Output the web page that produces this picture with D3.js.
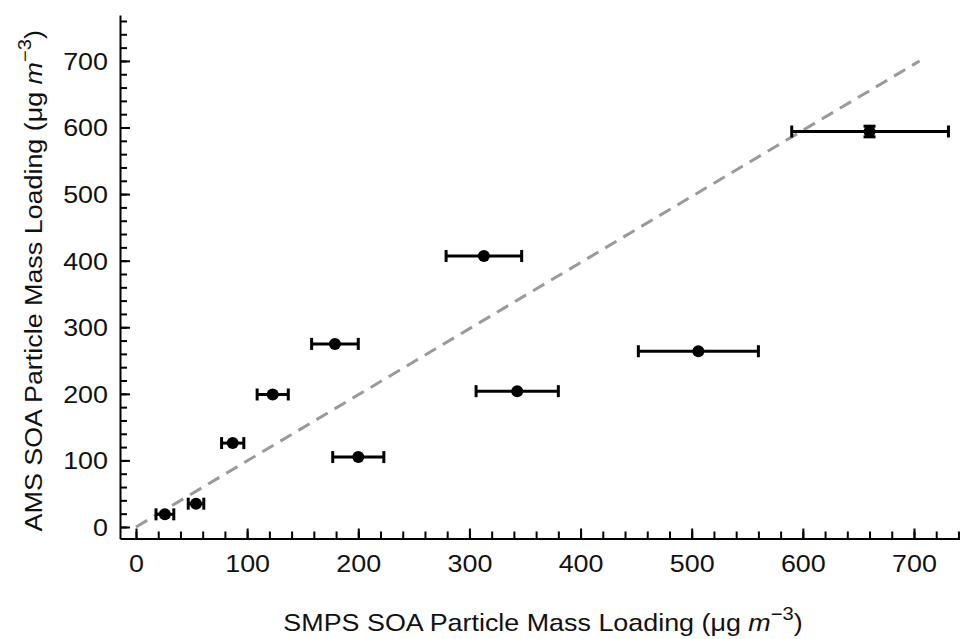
<!DOCTYPE html>
<html>
<head>
<meta charset="utf-8">
<script src="https://cdn.jsdelivr.net/npm/d3@7"></script>
<style>
    body { margin: 0; background: #fff; }
    .font { font-family: "Liberation Sans", Arial, sans-serif; fill: #111; }
    .tick-label { font-size: 24px; }
    .axis-label { font-size: 24px; }
    .axis path, .axis line { stroke: #000; stroke-width: 2; }
</style>
</head>
<body>
<svg id="chart" width="960" height="639"></svg>
<script>
const SVG_WIDTH = 960;
const SVG_HEIGHT = 639;

// data
const SMPS = [26, 54, 87, 123, 179, 200, 313, 343, 506, 660];
const AMS = [19, 35, 126, 199, 275, 105, 407, 204, 264, 594];
const SMPS_ERR_LOW = [8, 7, 10, 14, 21, 23, 34, 37, 54, 70];
const SMPS_ERR_HIGH = [8, 7, 10, 14, 21, 23, 34, 37, 54, 71];
const AMS_ERR = [0, 0, 0, 0, 0, 0, 0, 0, 0, 8];
const ONE_TO_ONE = [[0, 0], [705, 700]];
const X_TICKS = [0, 100, 200, 300, 400, 500, 600, 700];
const Y_TICKS = [0, 100, 200, 300, 400, 500, 600, 700];
const MINOR_STEP = 20;

const X_DOMAIN = [-14.4, 741.4];
const Y_DOMAIN = [-17.3, 769];
const PLOT_LEFT = 120;
const PLOT_RIGHT = 960;
const PLOT_TOP = 15;
const PLOT_BOTTOM = 538.5;
const MAJOR_TICK = 10;
const MINOR_TICK = 7;
const CAP_HALF = 6;
const DOT_RADIUS = 6;
// the original lettering is wider than Liberation Sans
const TEXT_STRETCH = 1.12;

var svg = d3.select("#chart");

var xScale = d3.scaleLinear().domain(X_DOMAIN).range([PLOT_LEFT, PLOT_RIGHT]);
var yScale = d3.scaleLinear().domain(Y_DOMAIN).range([PLOT_BOTTOM, PLOT_TOP]);

var xMinor = d3.range(0, X_DOMAIN[1], MINOR_STEP);
var yMinor = d3.range(0, Y_DOMAIN[1], MINOR_STEP);

// x axis: minor ticks, then major ticks with labels
svg.append("g")
    .attr("class", "axis")
    .attr("transform", "translate(0," + PLOT_BOTTOM + ")")
    .call(d3.axisBottom(xScale).tickValues(xMinor).tickSize(-MINOR_TICK)
        .tickSizeOuter(0).tickFormat(""));
var xAxis = svg.append("g")
    .attr("class", "axis")
    .attr("transform", "translate(0," + PLOT_BOTTOM + ")")
    .call(d3.axisBottom(xScale).tickValues(X_TICKS).tickSize(-MAJOR_TICK)
        .tickSizeOuter(0).tickPadding(0));
xAxis.select(".domain").remove();
xAxis.selectAll("text")
    .attr("class", "font tick-label")
    .attr("y", 34)
    .attr("dy", 0)
    .attr("fill", null)
    .attr("transform", "scale(" + TEXT_STRETCH + ",1)");

// y axis
svg.append("g")
    .attr("class", "axis")
    .attr("transform", "translate(" + PLOT_LEFT + ",0)")
    .call(d3.axisLeft(yScale).tickValues(yMinor).tickSize(-MINOR_TICK)
        .tickSizeOuter(0).tickFormat(""));
var yAxis = svg.append("g")
    .attr("class", "axis")
    .attr("transform", "translate(" + PLOT_LEFT + ",0)")
    .call(d3.axisLeft(yScale).tickValues(Y_TICKS).tickSize(-MAJOR_TICK)
        .tickSizeOuter(0));
yAxis.select(".domain").remove();
yAxis.selectAll("text")
    .attr("class", "font tick-label")
    .attr("x", -12 / TEXT_STRETCH)
    .attr("dy", "0.35em")
    .attr("fill", null)
    .attr("transform", "scale(" + TEXT_STRETCH + ",1)");

// 1:1 dashed line
svg.append("line")
    .attr("x1", xScale(ONE_TO_ONE[0][0]))
    .attr("y1", yScale(ONE_TO_ONE[0][1]))
    .attr("x2", xScale(ONE_TO_ONE[1][0]))
    .attr("y2", yScale(ONE_TO_ONE[1][1]))
    .attr("stroke", "#9a9a9a")
    .attr("stroke-width", 3)
    .attr("stroke-dasharray", "13,8");

// error bars and points
var pts = svg.append("g");
for (var i = 0; i < SMPS.length; i++) {
    var cx = xScale(SMPS[i]);
    var cy = yScale(AMS[i]);
    var xl = xScale(SMPS[i] - SMPS_ERR_LOW[i]);
    var xr = xScale(SMPS[i] + SMPS_ERR_HIGH[i]);
    pts.append("line")
        .attr("x1", xl).attr("x2", xr).attr("y1", cy).attr("y2", cy)
        .attr("stroke", "#000").attr("stroke-width", 3);
    [xl, xr].forEach(function(x) {
        pts.append("line")
            .attr("x1", x).attr("x2", x)
            .attr("y1", cy - CAP_HALF).attr("y2", cy + CAP_HALF)
            .attr("stroke", "#000").attr("stroke-width", 3);
    });
    if (AMS_ERR[i] > 0) {
        var yt = yScale(AMS[i] + AMS_ERR[i]);
        var yb = yScale(AMS[i] - AMS_ERR[i]);
        pts.append("line")
            .attr("x1", cx).attr("x2", cx).attr("y1", yt).attr("y2", yb)
            .attr("stroke", "#000").attr("stroke-width", 3);
        [yt, yb].forEach(function(y) {
            pts.append("line")
                .attr("x1", cx - CAP_HALF).attr("x2", cx + CAP_HALF)
                .attr("y1", y).attr("y2", y)
                .attr("stroke", "#000").attr("stroke-width", 3);
        });
    }
    pts.append("circle")
        .attr("cx", cx).attr("cy", cy).attr("r", DOT_RADIUS)
        .attr("fill", "#000");
}

// axis titles
function addTitle(prefix, transform) {
    var t = svg.append("text")
        .attr("class", "font axis-label")
        .attr("transform", transform + " scale(" + TEXT_STRETCH + ",1)")
        .attr("text-anchor", "middle");
    t.append("tspan").text(prefix + " SOA Particle Mass Loading (\u03bcg ");
    t.append("tspan").attr("font-style", "italic").text("m");
    t.append("tspan").attr("dy", -11).attr("font-size", 18).text("\u22123");
    t.append("tspan").attr("dy", 11).text(")");
    return t;
}
addTitle("SMPS", "translate(" + ((PLOT_LEFT + PLOT_RIGHT) / 2 + 3) + ",631)");
addTitle("AMS", "translate(42," + ((PLOT_TOP + PLOT_BOTTOM) / 2 + 4) + ") rotate(-90)");
</script>
</body>
</html>
